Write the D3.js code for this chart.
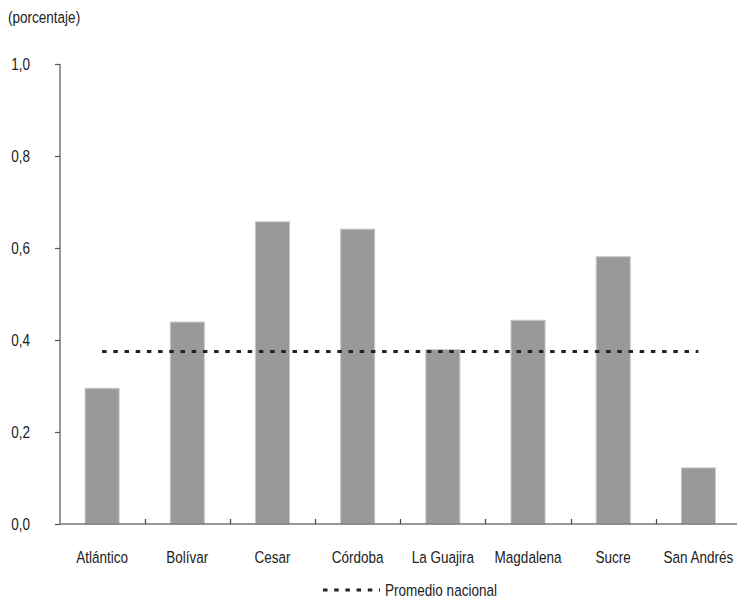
<!DOCTYPE html>
<html><head><meta charset="utf-8">
<script src="https://cdn.jsdelivr.net/npm/d3@7/dist/d3.min.js"></script>
<style>
body{margin:0;background:#fff;}
text{font-family:"Liberation Sans",Arial,sans-serif;fill:#222;font-size:16.5px;}
</style></head>
<body>
<svg id="chart" width="737" height="599"></svg>
<script>
const categories = ["Atlántico","Bolívar","Cesar","Córdoba","La Guajira","Magdalena","Sucre","San Andrés"];
const values = [0.295, 0.439, 0.657, 0.641, 0.379, 0.443, 0.581, 0.122];
const nationalAverage = 0.375;
const yTicks = [0, 0.2, 0.4, 0.6, 0.8, 1.0];
const yTickLabels = ["0,0","0,2","0,4","0,6","0,8","1,0"];
const unitLabel = "(porcentaje)";
const legendLabel = "Promedio nacional";

const svg = d3.select("#chart");
const SX = 0.82; // condensed look

function addText(px, py, str, anchor) {
  return svg.append("text")
    .attr("transform", `translate(${px},${py}) scale(${SX},1)`)
    .attr("text-anchor", anchor || "start")
    .text(str);
}

const x = d3.scaleBand().domain(categories).range([59.5, 741]).paddingInner(0.6).paddingOuter(0.3);
const y = d3.scaleLinear().domain([0, 1]).range([524, 64]);

// unit label
addText(8, 23, unitLabel);

// bars
svg.selectAll("rect.bar").data(values).enter().append("rect")
  .attr("class","bar")
  .attr("x", (d,i) => x(categories[i]))
  .attr("width", x.bandwidth())
  .attr("y", d => y(d))
  .attr("height", d => y(0) - y(d))
  .attr("fill", "#999999")
  .attr("stroke", "#c9c9c9")
  .attr("stroke-width", 1);

// y axis
const yAxis = d3.axisLeft(y).tickValues(yTicks).tickSize(5).tickFormat("");
const gy = svg.append("g").attr("transform", "translate(60,0)").call(yAxis);
gy.select(".domain").attr("stroke", "#777").attr("stroke-width", 1.5).attr("d", `M0,${y(1)}V${y(0)}`);
gy.selectAll(".tick line").attr("stroke", "#555").attr("stroke-width", 1.2);
yTicks.forEach((t, i) => addText(30, y(t) + 6, yTickLabels[i], "end"));

// x axis baseline
svg.append("line").attr("x1", 59.5).attr("x2", 737).attr("y1", y(0)).attr("y2", y(0))
  .attr("stroke", "#777").attr("stroke-width", 1.5);
// boundary ticks
const step = x.step();
svg.selectAll("line.xt").data(categories.slice(1)).enter().append("line")
  .attr("class","xt")
  .attr("x1", d => Math.round(x(d) + x.bandwidth()/2 - step/2) + 0.5)
  .attr("x2", d => Math.round(x(d) + x.bandwidth()/2 - step/2) + 0.5)
  .attr("y1", y(0)).attr("y2", y(0) - 5)
  .attr("stroke", "#444").attr("stroke-width", 1.2);
// category labels
categories.forEach(c => addText(x(c) + x.bandwidth()/2, 563, c, "middle"));

// national average line
svg.append("line")
  .attr("x1", x(categories[0]) + x.bandwidth()/2)
  .attr("x2", x(categories[categories.length-1]) + x.bandwidth()/2)
  .attr("y1", y(nationalAverage)).attr("y2", y(nationalAverage))
  .attr("stroke", "#222").attr("stroke-width", 3)
  .attr("stroke-dasharray", "4.5,6.7");

// legend
svg.append("line").attr("x1", 323).attr("x2", 380).attr("y1", 590).attr("y2", 590)
  .attr("stroke", "#222").attr("stroke-width", 3).attr("stroke-dasharray", "4.5,6.7");
addText(385, 596, legendLabel);
</script>
</body></html>
